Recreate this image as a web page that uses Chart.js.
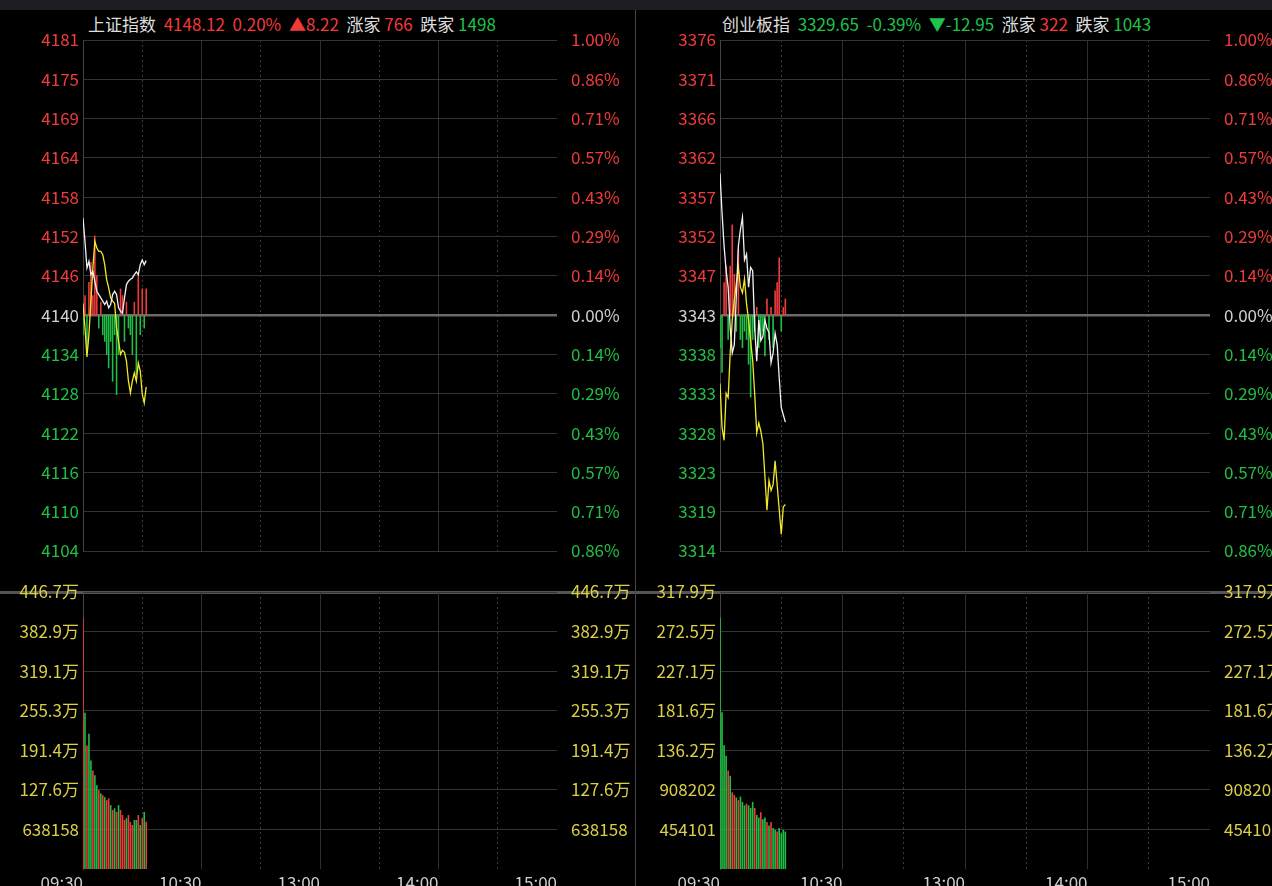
<!DOCTYPE html>
<html>
<head>
<meta charset="utf-8">
<script src="https://cdn.jsdelivr.net/npm/chart.js@4"></script>
<style>
  body { margin: 0; background: #000; width: 1272px; height: 886px; overflow: hidden; position: relative;
         font-family: "Noto Sans CJK SC", "Noto Sans", sans-serif; }
  .tabs { position: absolute; left: 0; top: 0; width: 1272px; height: 10px; background: #1e1e22; }
  .cv { position: absolute; }
  .hdr { position: absolute; top: 11px; font-size: 17px; color: #ddd; white-space: pre; }
  .r { color: #f03a3a; } .g { color: #1fc24a; }
  .sep { position: absolute; left: 635px; top: 10px; width: 1px; height: 876px; background: #444; }
  .hline { position: absolute; height: 3px; background: #555; top: 591px; }
</style>
</head>
<body>
<div class="tabs"></div>
<div class="sep"></div>
<div class="hline" style="left:0;width:635px"></div>
<div class="hline" style="left:636px;width:636px"></div>
<div class="hdr" style="left:88px">上证指数  <span class="r">4148.12  0.20%  ▲8.22</span>  涨家 <span class="r">766</span>  跌家 <span class="g">1498</span></div>
<div class="hdr" style="left:722px">创业板指  <span class="g">3329.65  -0.39%  ▼-12.95</span>  涨家 <span class="r">322</span>  跌家 <span class="g">1043</span></div>
<canvas id="p1" class="cv" style="left:0;top:10px"></canvas>
<canvas id="v1" class="cv" style="left:0;top:570px"></canvas>
<canvas id="p2" class="cv" style="left:636px;top:10px"></canvas>
<canvas id="v2" class="cv" style="left:636px;top:570px"></canvas>
<script>
"use strict";

// time axis: minutes of trading day (lunch removed), 0..240
let timeTicks = [0, 60, 120, 180, 240];
let timeLabels = ["09:30", "10:30", "13:00", "14:00", "15:00"];
let minutes = [];
for (let i = 0; i <= 32; i++) minutes.push(i);

// 上证指数
let shBase = 4139.9;
let shPrice = [4154.5, 4151, 4147, 4148, 4146, 4146.5, 4145, 4143.5, 4143, 4142.5, 4142, 4141.5, 4142, 4141, 4141.5, 4143, 4143.5,
  4143, 4141, 4140.5, 4140.2, 4142.5, 4144.5, 4145, 4145.3, 4145.5, 4146, 4146.4, 4146, 4147.5, 4148.2, 4147.5, 4148.1];
let shAvg = [4141.7, 4138, 4133.6, 4137, 4142, 4147, 4151, 4150, 4149.5, 4149.5, 4149, 4147.5, 4145.2, 4144, 4142.5, 4142, 4141.7,
  4138, 4136, 4134, 4134.6, 4134.3, 4133, 4130, 4128.2, 4130, 4131.2, 4130, 4132.7, 4131.5, 4128, 4126.7, 4129.1];
let shBreadth = [-3, 3, -5, 5, 8, 3, 12, 6, -2, 2, -3, -4, -6, -8, -4, -10, -3, -12, -6, 4, 3, -4, 2, -2, -3, -6, 2, -9, 6, -3, 4, -2, 4];
let shVolStep = 638158;
let shVol = [4050000, 2520000, 1990000, 2180000, 1750000, 1590000, 1510000, 1350000, 1270000, 1220000, 1190000, 1160000, 1110000,
  1140000, 1030000, 950000, 980000, 920000, 1030000, 950000, 870000, 790000, 820000, 870000, 760000, 710000, 790000, 790000,
  870000, 710000, 820000, 920000, 760000];
let shVolUp = "rgrggrggrgrgrrgrgrgrrrgrrrggrgr".split("").concat(["g", "r"]);

// 创业板指
let cyBase = 3342.6;
let cyPrice = [3359.8, 3355, 3351, 3348, 3346, 3341, 3338, 3339, 3345, 3351, 3353, 3354.5, 3349.3, 3350, 3346, 3348.4, 3348,
  3341, 3337, 3342, 3339.5, 3340, 3342, 3341, 3340.5, 3336.8, 3338, 3340.4, 3339, 3335, 3331.4, 3330.5, 3329.6];
let cyAvg = [3334.3, 3329, 3327.4, 3333.1, 3332.6, 3338, 3342, 3344.4, 3346.5, 3348.4, 3346, 3345.3, 3347, 3344, 3342, 3339.5,
  3337.1, 3333, 3328.3, 3329.5, 3328.5, 3327, 3323, 3318.9, 3322.5, 3321.3, 3322, 3324.9, 3322, 3319, 3316, 3319.3, 3319.6];
let cyBreadth = [-4, -7, 4, 6, -3, 6, 11, 5, -2, 8, -3, -4, -2, -3, -6, -10, -3, -2, 1, -4, -3, -2, -5, 2, -3, 1, -4, 3, 4, 7, -2, 1, 2];
let cyVolStep = 454101;
let cyVol = [2880000, 1800000, 1420000, 1300000, 1130000, 1070000, 880000, 850000, 820000, 790000, 830000, 770000, 730000,
  750000, 730000, 700000, 770000, 700000, 620000, 590000, 650000, 570000, 590000, 540000, 500000, 540000, 470000, 450000,
  430000, 470000, 410000, 450000, 430000];
let cyVolUp = "ggggrgrrgrgggrgggrggrggrgrggrgggg".split("");

const RED = "#ef3b3b", GREEN = "#1fbf45", FONT = "'Noto Sans CJK SC', 'Noto Sans', sans-serif";

function gridX(dotted) {
  return {
    type: "linear", min: 0, max: 240, display: true, offset: false,
    afterFit: ax => { ax.height = 0; },
    afterBuildTicks: ax => { ax.ticks = (dotted ? [30, 90, 150, 210] : [60, 120, 180]).map(v => ({ value: v })); },
    ticks: { display: false },
    grid: { color: dotted ? "#3a3a3a" : "#2e2e2e", lineWidth: 1, drawTicks: false, offset: false },
    border: { display: false, dash: dotted ? [2, 3] : [] }
  };
}

function fixWidth(w) { return ax => { ax.width = w; }; }

function pricePanel(id, w, lw, rw, base, price, avg, breadth) {
  const step = base * 0.01 / 7;
  const tks = [];
  for (let k = -6; k <= 7; k++) tks.push(base + k * step);
  const colorOf = v => Math.abs(v - base) < 1e-6 ? "#d0d0d0" : (v > base ? RED : GREEN);
  const c = document.getElementById(id);
  c.width = w; c.height = 560;
  c.style.width = w + "px"; c.style.height = "560px";
  new Chart(c, {
    data: {
      datasets: [
        { type: "line", data: minutes.map(i => ({ x: i, y: price[i] })), borderColor: "#f2f2f2", borderWidth: 1.3, pointRadius: 0, tension: 0, order: 1 },
        { type: "line", data: minutes.map(i => ({ x: i, y: avg[i] })), borderColor: "#f2e92a", borderWidth: 1.3, pointRadius: 0, tension: 0, order: 2 },
        { type: "bar", data: minutes.map(i => ({ x: i, y: [base, base + breadth[i]] })),
          backgroundColor: minutes.map(i => breadth[i] > 0 ? RED : GREEN), barPercentage: 0.8, categoryPercentage: 1, order: 3 }
      ]
    },
    options: {
      responsive: false, animation: false,
      layout: { padding: { top: 30, bottom: 19 } },
      plugins: { legend: { display: false }, tooltip: { enabled: false } },
      scales: {
        x: gridX(false), x2: gridX(true),
        y: {
          position: "left", min: tks[0], max: tks[13], afterFit: fixWidth(lw),
          afterBuildTicks: ax => { ax.ticks = tks.map(v => ({ value: v })); },
          ticks: { padding: 4, font: { family: FONT, size: 17 }, color: ctx => colorOf(ctx.tick.value), callback: v => Math.round(v) },
          grid: { color: ctx => Math.abs(ctx.tick.value - base) < 1e-6 ? "#6a6a6a" : "#333", lineWidth: ctx => Math.abs(ctx.tick.value - base) < 1e-6 ? 2.5 : 1, drawTicks: false },
          border: { color: "#444" }
        },
        y2: {
          position: "right", min: tks[0], max: tks[13], afterFit: fixWidth(rw),
          afterBuildTicks: ax => { ax.ticks = tks.map(v => ({ value: v })); },
          ticks: { padding: 6, font: { family: FONT, size: 17 }, color: ctx => colorOf(ctx.tick.value),
            callback: v => (Math.abs(v - base) / base * 100).toFixed(2) + "%" },
          grid: { display: false }, border: { display: false }
        }
      }
    }
  });
}

function fmtVol(v) { return v >= 1e6 ? (v / 1e4).toFixed(1) + "万" : String(Math.round(v)); }

function volPanel(id, w, lw, rw, stepV, vol, ups) {
  const tks = [];
  for (let k = 1; k <= 7; k++) tks.push(k * stepV);
  const c = document.getElementById(id);
  c.width = w; c.height = 316;
  c.style.width = w + "px"; c.style.height = "316px";
  new Chart(c, {
    type: "bar",
    data: {
      datasets: [{ data: minutes.map(i => ({ x: i, y: vol[i] })), backgroundColor: minutes.map(i => ups[i] === "r" ? RED : GREEN),
        barPercentage: 0.8, categoryPercentage: 1 }]
    },
    options: {
      responsive: false, animation: false,
      layout: { padding: { top: 22 } },
      plugins: { legend: { display: false }, tooltip: { enabled: false } },
      scales: {
        x: {
          type: "linear", min: 0, max: 240, offset: false, afterFit: ax => { ax.height = 17; },
          afterBuildTicks: ax => { ax.ticks = timeTicks.map(v => ({ value: v })); },
          ticks: { align: "end", maxRotation: 0, padding: 3, color: "#cfcfcf", font: { family: FONT, size: 17 },
            callback: v => timeLabels[timeTicks.indexOf(v)] },
          grid: { color: ctx => (ctx.tick && (ctx.tick.value === 0 || ctx.tick.value === 240)) ? "rgba(0,0,0,0)" : "#2e2e2e", drawTicks: false, offset: false },
          border: { display: false }
        },
        x2: gridX(true),
        y: {
          position: "left", min: 0, max: tks[6], afterFit: fixWidth(lw),
          afterBuildTicks: ax => { ax.ticks = tks.map(v => ({ value: v })); },
          ticks: { padding: 4, color: "#dccf45", font: { family: FONT, size: 17 }, callback: fmtVol },
          grid: { color: "#333", drawTicks: false }, border: { color: "#444" }
        },
        y2: {
          position: "right", min: 0, max: tks[6], afterFit: fixWidth(rw),
          afterBuildTicks: ax => { ax.ticks = tks.map(v => ({ value: v })); },
          ticks: { padding: 6, color: "#dccf45", font: { family: FONT, size: 17 }, callback: fmtVol },
          grid: { display: false }, border: { display: false }
        }
      }
    }
  });
}

pricePanel("p1", 635, 83, 78, shBase, shPrice, shAvg, shBreadth);
volPanel("v1", 635, 83, 78, shVolStep, shVol, shVolUp);
pricePanel("p2", 636, 84, 62, cyBase, cyPrice, cyAvg, cyBreadth);
volPanel("v2", 636, 84, 62, cyVolStep, cyVol, cyVolUp);
</script>
</body>
</html>
